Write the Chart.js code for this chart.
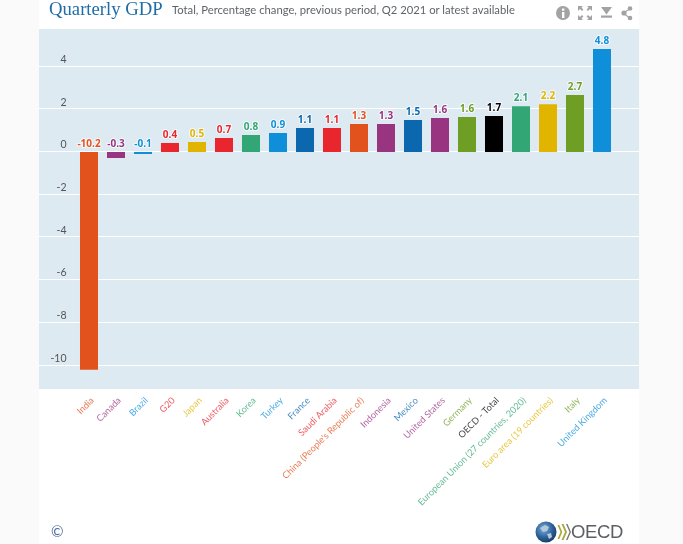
<!DOCTYPE html>
<html><head><meta charset="utf-8">
<style>
html,body{margin:0;padding:0;background:#fafafa;width:683px;height:544px;overflow:hidden;font-family:"Lato",sans-serif}
#page{position:absolute;left:39px;top:0;width:600px;height:544px;background:#fff}
canvas{position:absolute;left:0;top:0}
.t{position:absolute;white-space:nowrap}
#title{left:49px;top:-3px;font:18.7px/24px "Liberation Serif",serif;color:#1f6da8}
#sub{left:172px;top:2px;font:11.25px/16px "Lato",sans-serif;color:#5f6368}
#copy{left:51px;top:523px;font:15px/16px "Lato",sans-serif;color:#4a6a9a}
#oecd{left:571px;top:519px;font:18.500px/26px "Liberation Sans",sans-serif;color:#5c5f63;letter-spacing:-.4px}
svg{position:absolute}
</style></head><body>
<div id="page"></div>
<canvas id="c" width="683" height="544"></canvas>
<div class="t" id="title">Quarterly GDP</div>
<div class="t" id="sub">Total, Percentage change, previous period, Q2 2021 or latest available</div>
<div class="t" id="copy">©</div>
<div class="t" id="oecd">OECD</div>
<svg style="left:555px;top:4px" width="80" height="18" viewBox="0 0 80 18" fill="#a3a3a3">
<circle cx="8" cy="9" r="7"/><rect x="7" y="8" width="2.4" height="6" fill="#fff"/><rect x="7" y="4.5" width="2.4" height="2.2" fill="#fff"/>
<path d="M23 2h5l-1.6 1.6 2 2-1.4 1.4-2-2L23 7zM37 2h-5l1.6 1.6-2 2 1.4 1.4 2-2L37 7zM23 16h5l-1.6-1.6 2-2-1.4-1.4-2 2L23 11zM37 16h-5l1.6-1.6-2-2 1.4-1.4 2 2L37 11z"/>
<path d="M46 3h11l-5.500 7.500z"/><rect x="46" y="11.500" width="11" height="2.200"/>
<circle cx="69" cy="9" r="2.600"/><circle cx="75" cy="4.500" r="2.300"/><circle cx="75" cy="14" r="2.300"/><path d="M69 8l6-4 .6 1-6 4zM69 9l6 4.500-.6 1-6-4.500z"/>
</svg>
<svg style="left:534px;top:520px" width="38" height="24" viewBox="0 0 38 24">
<defs><radialGradient id="g" cx=".4" cy=".35" r=".7"><stop offset="0" stop-color="#7fb0dd"/><stop offset=".6" stop-color="#2b6098"/><stop offset="1" stop-color="#173a60"/></radialGradient></defs>
<circle cx="12" cy="12" r="10.500" fill="url(#g)"/>
<path d="M6 8l5-3 4 2-2 4-4 1zM13 14l4-1 1 4-3 2z" fill="#b5c9dc"/>
<path d="M23.500 5l3 7-3 7h1.800l3-7-3-7zM27.500 4l3.500 8-3.500 8h2l3.500-8-3.500-8z" fill="#a8a83c"/>
<path d="M32 4l3.500 8-3.500 8h1.500l3.500-8-3.500-8z" fill="#777"/>
</svg>
<script src="https://cdn.jsdelivr.net/npm/chart.js@4/dist/chart.umd.min.js"></script>
<script>
const categories = ["India","Canada","Brazil","G20","Japan","Australia","Korea","Turkey","France","Saudi Arabia","China (People's Republic of)","Indonesia","Mexico","United States","Germany","OECD - Total","European Union (27 countries, 2020)","Euro area (19 countries)","Italy","United Kingdom"];
const gdpValues = [-10.2,-0.28,-0.1,0.42,0.47,0.66,0.8,0.89,1.12,1.12,1.31,1.31,1.5,1.59,1.64,1.69,2.14,2.24,2.67,4.82];
const barColors = ["#e2521d","#993481","#0f8fd9","#e9262e","#e1b400","#e9262e","#32a674","#0f8fd9","#0b68af","#e9262e","#e2521d","#993481","#0b68af","#993481","#6f9e25","#000000","#32a674","#e1b400","#6f9e25","#0f8fd9"];
const yTicks = [-10,-8,-6,-4,-2,0,2,4];
const yMin = -11.1, yMax = 5.76;

const panel = {
  id:'panel',
  beforeDraw(ch){
    const {ctx,scales:{y}} = ch;
    ctx.save();
    ctx.fillStyle='#deeaf2';
    ctx.fillRect(39,29,600,360);
    ctx.fillStyle='#ffffff';
    yTicks.forEach(v=>{ctx.fillRect(39,Math.round(y.getPixelForValue(v))-1,600,1);});
    ctx.restore();
  }
};
const valueLabels = {
  id:'valueLabels',
  afterDatasetsDraw(ch){
    const {ctx,scales:{y}} = ch;
    const meta = ch.getDatasetMeta(0);
    ctx.save();
    ctx.font='bold 10px "Open Sans",sans-serif';
    ctx.textAlign='center';ctx.textBaseline='alphabetic';ctx.lineJoin='round';
    gdpValues.forEach((v,i)=>{
      const el = meta.data[i];
      const py = (v>=0?el.y:y.getPixelForValue(0))-5;
      const s = v.toFixed(1);
      ctx.strokeStyle='rgba(255,255,255,.75)';ctx.lineWidth=2;
      ctx.strokeText(s,el.x,py);
      ctx.fillStyle=barColors[i];
      ctx.fillText(s,el.x,py);
    });
    ctx.restore();
  }
};
new Chart(document.getElementById('c'),{
  type:'bar',
  data:{labels:categories,datasets:[{data:gdpValues,backgroundColor:barColors,borderWidth:0,categoryPercentage:1,barPercentage:.667}]},
  plugins:[panel,valueLabels],
  options:{
    responsive:false,animation:false,devicePixelRatio:1,
    layout:{padding:{left:39,right:67.5,top:29,bottom:0}},
    plugins:{legend:{display:false},tooltip:{enabled:false},title:{display:false}},
    scales:{
      x:{
        grid:{display:false},border:{display:false},
        afterFit(s){s.height=155;},
        ticks:{autoSkip:false,minRotation:45,maxRotation:45,padding:-2,labelOffset:3.5,
          font:{size:9.2,family:'"Lato",sans-serif'},
          color:c=>barColors[c.index]+'c0'}
      },
      y:{
        min:yMin,max:yMax,
        grid:{display:false},border:{display:false},
        afterFit(s){s.width=36.5;},
        afterBuildTicks(s){s.ticks=yTicks.map(v=>({value:v}));},
        ticks:{padding:1,labelOffset:-7,font:{size:10.5,family:'"Lato",sans-serif'},color:'#555'}
      }
    }
  }
});
</script>
</body></html>
